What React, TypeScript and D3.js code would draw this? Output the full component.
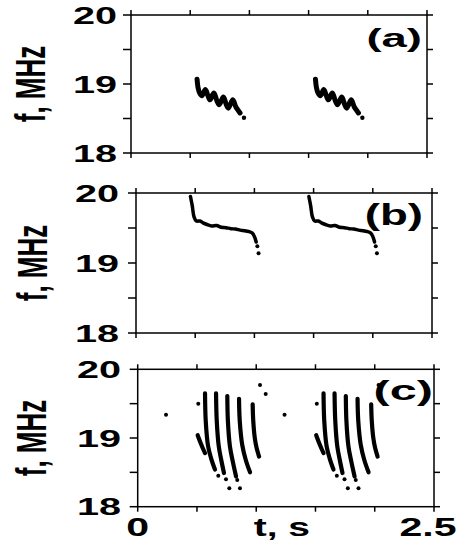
import * as d3 from 'd3';

const T_TICKS = [0, 0.5, 1, 1.5, 2, 2.5];
const F_TICKS = [18, 18.5, 19, 19.5, 20];
const F_LABELS = [18, 19, 20];
const T_LABELS = [0, 2.5];

// (a) wavy bursts, points are [t (s), f (MHz)]
const A_BURST_1 = [
    [0.558, 19.07], [0.566, 18.95], [0.580, 18.87], [0.600, 18.83], [0.628, 18.92],
    [0.650, 18.83], [0.667, 18.77], [0.700, 18.87], [0.725, 18.76], [0.745, 18.70],
    [0.780, 18.81], [0.805, 18.70], [0.822, 18.65], [0.860, 18.77], [0.885, 18.67],
    [0.905, 18.62], [0.921, 18.58]
];
const A_BURST_2 = [
    [1.558, 19.07], [1.566, 18.95], [1.580, 18.87], [1.600, 18.83], [1.628, 18.92],
    [1.650, 18.83], [1.667, 18.77], [1.700, 18.87], [1.725, 18.76], [1.745, 18.70],
    [1.780, 18.81], [1.805, 18.70], [1.822, 18.65], [1.860, 18.77], [1.885, 18.67],
    [1.905, 18.62], [1.921, 18.58]
];
const A_DOTS = [[0.954, 18.51], [1.954, 18.51]];

// (b) falling tones
const B_CURVE_1 = [
    [0.460, 19.95], [0.475, 19.82], [0.490, 19.66], [0.510, 19.60], [0.540, 19.60],
    [0.570, 19.57], [0.600, 19.55], [0.640, 19.53], [0.680, 19.535], [0.720, 19.51],
    [0.760, 19.505], [0.800, 19.49], [0.840, 19.485], [0.880, 19.47], [0.920, 19.46],
    [0.950, 19.45], [0.980, 19.43], [1.000, 19.38], [1.015, 19.30]
];
const B_CURVE_2 = [
    [1.460, 19.95], [1.475, 19.82], [1.490, 19.66], [1.510, 19.60], [1.540, 19.60],
    [1.570, 19.57], [1.600, 19.55], [1.640, 19.53], [1.680, 19.535], [1.720, 19.51],
    [1.760, 19.505], [1.800, 19.49], [1.840, 19.485], [1.880, 19.47], [1.920, 19.46],
    [1.950, 19.45], [1.980, 19.43], [2.000, 19.38], [2.015, 19.30]
];
const B_DOTS = [[1.025, 19.24], [1.035, 19.14], [2.025, 19.24], [2.035, 19.14]];

// (c) sweeping strokes
const C_STROKES = [
    [[0.506, 19.04], [0.530, 18.93], [0.552, 18.84], [0.568, 18.78]],
    [[0.568, 19.65], [0.574, 19.25], [0.594, 18.88], [0.620, 18.70], [0.652, 18.54]],
    [[0.661, 19.65], [0.667, 19.25], [0.684, 18.88], [0.705, 18.68], [0.728, 18.49]],
    [[0.756, 19.61], [0.761, 19.25], [0.778, 18.88], [0.802, 18.66], [0.830, 18.44]],
    [[0.855, 19.57], [0.861, 19.25], [0.882, 18.90], [0.912, 18.68], [0.948, 18.50]],
    [[0.970, 19.49], [0.975, 19.25], [0.988, 19.00], [1.004, 18.85], [1.024, 18.73]],
    [[1.506, 19.04], [1.530, 18.93], [1.552, 18.84], [1.568, 18.78]],
    [[1.568, 19.65], [1.574, 19.25], [1.594, 18.88], [1.620, 18.70], [1.652, 18.54]],
    [[1.661, 19.65], [1.667, 19.25], [1.684, 18.88], [1.705, 18.68], [1.728, 18.49]],
    [[1.756, 19.61], [1.761, 19.25], [1.778, 18.88], [1.802, 18.66], [1.830, 18.44]],
    [[1.855, 19.57], [1.861, 19.25], [1.882, 18.90], [1.912, 18.68], [1.948, 18.50]],
    [[1.970, 19.49], [1.975, 19.25], [1.988, 19.00], [2.004, 18.85], [2.024, 18.73]]
];
const C_DOTS = [
    [0.239, 19.34], [0.511, 19.50], [1.032, 19.77], [1.080, 19.64],
    [0.680, 18.45], [0.745, 18.40], [0.840, 18.39], [0.773, 18.27], [0.863, 18.27],
    [1.239, 19.34], [1.511, 19.50], [2.032, 19.77],
    [1.680, 18.45], [1.745, 18.40], [1.840, 18.39], [1.773, 18.27], [1.863, 18.27]
];

const FONT = '"Liberation Sans", Arial, sans-serif';

const PANELS = [
    {
        box: {x0: 131, x1: 427, y0: 15, y1: 153},
        lines: [A_BURST_1, A_BURST_2], dots: A_DOTS, strokeWidth: 5, dotR: 2.2,
        label: '(a)', labelPos: {x: 422, y: 47, size: 26, sx: 1.75},
        tickLabelX: 117, titleX: 33, showT: false
    },
    {
        box: {x0: 136, x1: 432, y0: 193, y1: 333},
        lines: [B_CURVE_1, B_CURVE_2], dots: B_DOTS, strokeWidth: 3.5, dotR: 2,
        label: '(b)', labelPos: {x: 423, y: 225, size: 30, sx: 1.52},
        tickLabelX: 119, titleX: 35, showT: false
    },
    {
        box: {x0: 137.7, x1: 434, y0: 369.3, y1: 506.7},
        lines: C_STROKES, dots: C_DOTS, strokeWidth: 4.2, dotR: 2,
        label: '(c)', labelPos: {x: 433, y: 400, size: 27, sx: 1.8},
        tickLabelX: 121, titleX: 34, showT: true
    }
];

function Panel({p}) {
    const {x0, x1, y0, y1} = p.box;
    const xScale = d3.scaleLinear().domain([0, 2.5]).range([x0, x1]);
    const yScale = d3.scaleLinear().domain([18, 20]).range([y1, y0]);

    const line = d3.line()
        .x((d) => xScale(d[0]))
        .y((d) => yScale(d[1]))
        .curve(d3.curveCatmullRom.alpha(0.5));

    const midY = (y0 + y1) / 2;

    return (
        <g>
            {/* data */}
            {p.lines.map((pts, i) => (
                <path key={'l' + i} d={line(pts)} fill="none" stroke="#000"
                    strokeWidth={p.strokeWidth} strokeLinecap="round" strokeLinejoin="round" />
            ))}
            {p.dots.map((d, i) => (
                <circle key={'d' + i} cx={xScale(d[0])} cy={yScale(d[1])} r={p.dotR} fill="#000" />
            ))}

            {/* frame */}
            <rect x={x0} y={y0} width={x1 - x0} height={y1 - y0} fill="none" stroke="#000" strokeWidth={1.5} />
            {T_TICKS.map((t) => (
                <g key={'t' + t}>
                    <line x1={xScale(t)} x2={xScale(t)} y1={y0} y2={y0 - 5} stroke="#000" strokeWidth={1.5} />
                    <line x1={xScale(t)} x2={xScale(t)} y1={y1} y2={y1 + 5} stroke="#000" strokeWidth={1.5} />
                </g>
            ))}
            {F_TICKS.map((f) => (
                <g key={'f' + f}>
                    <line x1={x0} x2={x0 - 8} y1={yScale(f)} y2={yScale(f)} stroke="#000" strokeWidth={1.5} />
                    <line x1={x1} x2={x1 + 6} y1={yScale(f)} y2={yScale(f)} stroke="#000" strokeWidth={1.5} />
                </g>
            ))}

            {/* tick labels */}
            {F_LABELS.map((f) => (
                <text key={'fl' + f} transform={`translate(${p.tickLabelX},${yScale(f)}) scale(1.65,1)`}
                    textAnchor="end" dy="0.36em" fontSize={24} fontWeight="bold" fontFamily={FONT}>
                    {f}
                </text>
            ))}
            {p.showT && T_LABELS.map((t) => (
                <text key={'tl' + t} transform={`translate(${t === 0 ? xScale(t) : 428},536) scale(1.58,1)`}
                    textAnchor="middle" fontSize={26} fontWeight="bold" fontFamily={FONT}>
                    {t}
                </text>
            ))}
            {p.showT && (
                <text transform={`translate(${(x0 + x1) / 2 - 4},536) scale(1.5,1)`}
                    textAnchor="middle" fontSize={26} fontWeight="bold" fontFamily={FONT}>
                    t, s
                </text>
            )}

            {/* axis title */}
            <text transform={`translate(${p.titleX},${midY}) scale(1.6,1) rotate(-90)`}
                textAnchor="middle" dy="0.28em" fontSize={26} fontWeight="bold" fontFamily={FONT}>
                f, MHz
            </text>

            {/* panel label */}
            <text transform={`translate(${p.labelPos.x},${p.labelPos.y}) scale(${p.labelPos.sx},1)`}
                textAnchor="end" fontSize={p.labelPos.size} fontWeight="bold" fontFamily={FONT}>
                {p.label}
            </text>
        </g>
    );
}

export default function App() {
    return (
        <svg width={459} height={548} style={{position: 'absolute', left: 0, top: 0, background: '#fff'}}>
            <rect width={459} height={548} fill="#fff" />
            {PANELS.map((p, i) => <Panel key={i} p={p} />)}
        </svg>
    );
}
